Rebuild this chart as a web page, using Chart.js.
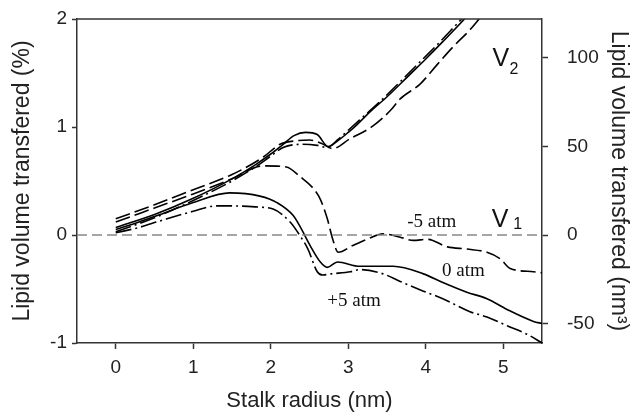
<!DOCTYPE html>
<html><head><meta charset="utf-8">
<script src="https://cdn.jsdelivr.net/npm/chart.js@4"></script>
<style>html,body{margin:0;padding:0;background:#fff;}canvas{display:block;}</style>
</head><body>
<canvas id="c" width="632" height="419"></canvas>
<script>
// ---- tick labels ----
const xTicks = [0, 1, 2, 3, 4, 5];
const yTicks = [-1, 0, 1, 2];
const y2Ticks = [-50, 0, 50, 100];

// ---- V1, -5 atm (long dash) ----
const xV1m5 = [0, 0.5, 1.0, 1.5, 1.9, 2.2, 2.38, 2.55, 2.64, 2.73, 2.8, 2.87, 3.05, 3.24, 3.45, 3.67, 3.84, 4.02, 4.28, 4.53, 4.79, 4.96, 5.09, 5.39, 5.5];
const yV1m5 = [0.12, 0.25, 0.38, 0.52, 0.64, 0.63, 0.54, 0.43, 0.33, 0.15, -0.04, -0.16, -0.10, -0.04, 0.01, -0.02, -0.05, -0.04, -0.11, -0.13, -0.16, -0.22, -0.31, -0.34, -0.35];
// ---- V1, 0 atm (solid) ----
const xV1z = [0, 0.3, 0.57, 1.0, 1.47, 1.86, 2.08, 2.29, 2.4, 2.51, 2.64, 2.73, 2.86, 3.15, 3.58, 3.97, 4.22, 4.53, 4.79, 5.05, 5.39, 5.5];
const yV1z = [0.05, 0.12, 0.19, 0.30, 0.39, 0.36, 0.30, 0.18, 0.05, -0.10, -0.25, -0.30, -0.25, -0.29, -0.29, -0.36, -0.44, -0.53, -0.59, -0.69, -0.80, -0.82];
// ---- V1, +5 atm (dash-dot) ----
const xV1p5 = [0, 0.3, 0.57, 1.0, 1.3, 1.47, 1.8, 2.03, 2.25, 2.38, 2.48, 2.6, 2.67, 2.78, 3.03, 3.15, 3.45, 3.67, 3.97, 4.22, 4.57, 4.79, 5.05, 5.31, 5.5];
const yV1p5 = [0.02, 0.07, 0.13, 0.22, 0.27, 0.27, 0.26, 0.24, 0.12, -0.01, -0.13, -0.34, -0.37, -0.36, -0.34, -0.32, -0.36, -0.43, -0.52, -0.59, -0.71, -0.76, -0.84, -0.92, -1.0];

// ---- V2, -5 atm (long dash) ----
const xV2m5 = [0, 0.5, 1.0, 1.5, 1.9, 2.12, 2.3, 2.5, 2.65, 2.8, 3.02, 3.32, 3.54, 3.67, 3.93, 4.15, 4.35, 4.57, 4.7];
const yV2m5 = [0.15, 0.28, 0.42, 0.56, 0.72, 0.84, 0.87, 0.88, 0.85, 0.80, 0.89, 1.01, 1.15, 1.26, 1.40, 1.58, 1.74, 1.90, 2.01];
// ---- V2, 0 atm (solid) ----
const xV2z = [0, 0.5, 1.0, 1.5, 1.8, 2.0, 2.16, 2.3, 2.45, 2.6, 2.74, 2.86, 3.0, 3.11, 3.28, 3.5, 3.8, 4.0, 4.22, 4.5, 4.55];
const yV2z = [0.07, 0.19, 0.34, 0.52, 0.65, 0.75, 0.84, 0.92, 0.95, 0.93, 0.82, 0.87, 0.95, 1.02, 1.14, 1.28, 1.49, 1.63, 1.79, 2.00, 2.04];
// ---- V2, +5 atm (dash-dot) ----
const xV2p5 = [0, 0.5, 1.0, 1.5, 1.8, 2.0, 2.16, 2.4, 2.6, 2.73, 2.86, 3.0, 3.2, 3.4, 3.7, 3.95, 4.2, 4.45, 4.52];
const yV2p5 = [0.03, 0.16, 0.32, 0.50, 0.63, 0.73, 0.81, 0.84, 0.83, 0.81, 0.88, 0.97, 1.10, 1.23, 1.44, 1.62, 1.80, 1.99, 2.04];

// ---- zero reference line ----
const xZero = [-0.5, 5.5];
const yZero = [0, 0];

const pts = (xs, ys) => xs.map((x, i) => ({x: x, y: ys[i]}));
const SANS = "'Liberation Sans', Arial, sans-serif";
const SERIF = "'Liberation Serif', 'Times New Roman', serif";
const AX = '#333';
const DASH = [15, 5];
const DASHDOT = [16, 4, 2, 4];

function line(label, xs, ys, dash) {
  return {label, data: pts(xs, ys), borderColor: '#000', borderWidth: 1.6, borderDash: dash,
    pointRadius: 0, fill: false, cubicInterpolationMode: 'monotone', yAxisID: 'y'};
}

const annot = {
  id: 'annot',
  afterDraw(chart) {
    const {ctx, chartArea: a, scales: {x, y}} = chart;
    ctx.save();
    ctx.strokeStyle = AX; ctx.lineWidth = 1.5;
    ctx.beginPath(); ctx.moveTo(a.left, a.top); ctx.lineTo(a.right, a.top); ctx.stroke();
    ctx.fillStyle = '#111';
    ctx.textBaseline = 'alphabetic'; ctx.textAlign = 'left';
    ctx.font = '25px ' + SANS;
    ctx.fillText('V', x.getPixelForValue(4.86), y.getPixelForValue(1.565));
    ctx.fillText('V', x.getPixelForValue(4.85), y.getPixelForValue(0.074));
    ctx.font = '16px ' + SANS;
    ctx.fillText('2', x.getPixelForValue(5.08), y.getPixelForValue(1.49));
    ctx.fillText('1', x.getPixelForValue(5.13), y.getPixelForValue(0.056));
    ctx.font = '19px ' + SERIF;
    ctx.fillText('-5 atm', x.getPixelForValue(3.76), y.getPixelForValue(0.074));
    ctx.fillText('0 atm', x.getPixelForValue(4.21), y.getPixelForValue(-0.38));
    ctx.fillText('+5 atm', x.getPixelForValue(2.73), y.getPixelForValue(-0.66));
    ctx.restore();
  }
};

function fitV(w) {
  return s => { s.width = w; s.paddingTop = 0; s.paddingBottom = 0; };
}

new Chart(document.getElementById('c'), {
  type: 'line',
  data: {
    datasets: [
      {label: 'zero', data: pts(xZero, yZero), borderColor: '#888', borderWidth: 1.3, borderDash: [10, 5],
        pointRadius: 0, fill: false, yAxisID: 'y'},
      line('V1 -5 atm', xV1m5, yV1m5, DASH),
      line('V1 0 atm', xV1z, yV1z, []),
      line('V1 +5 atm', xV1p5, yV1p5, DASHDOT),
      line('V2 -5 atm', xV2m5, yV2m5, DASH),
      line('V2 0 atm', xV2z, yV2z, []),
      line('V2 +5 atm', xV2p5, yV2p5, DASHDOT)
    ]
  },
  options: {
    responsive: false, animation: false, devicePixelRatio: 1,
    layout: {padding: {top: 19, left: 0, right: 0, bottom: 0}},
    plugins: {legend: {display: false}, tooltip: {enabled: false}},
    scales: {
      x: {
        type: 'linear', position: 'bottom', min: -0.5, max: 5.5,
        afterBuildTicks: s => { s.ticks = xTicks.map(v => ({value: v})); },
        afterFit: s => { s.height = 76; s.paddingLeft = 0; s.paddingRight = 0; },
        grid: {drawOnChartArea: false, drawTicks: true, tickLength: 6, tickColor: AX, tickWidth: 1.5},
        border: {color: AX, width: 1.5},
        ticks: {font: {size: 19, family: SANS}, color: '#222', padding: 7, maxRotation: 0, autoSkip: false},
        title: {display: true, text: 'Stalk radius (nm)', color: '#222', font: {size: 22, family: SANS}, padding: {top: 0, bottom: 5}}
      },
      y: {
        type: 'linear', position: 'left', min: -1, max: 2,
        afterBuildTicks: s => { s.ticks = yTicks.map(v => ({value: v})); },
        afterFit: fitV(77),
        grid: {drawOnChartArea: false, drawTicks: true, tickLength: 5, tickColor: AX, tickWidth: 1.5},
        border: {color: AX, width: 1.5},
        ticks: {font: {size: 19, family: SANS}, color: '#222', padding: 5, autoSkip: false},
        title: {display: true, text: 'Lipid volume transfered (%)', color: '#222', font: {size: 23, family: SANS}, padding: {top: 9, bottom: 0}}
      },
      y2: {
        type: 'linear', position: 'right', min: -61, max: 122,
        afterBuildTicks: s => { s.ticks = y2Ticks.map(v => ({value: v})); },
        afterFit: fitV(90),
        grid: {drawOnChartArea: false, drawTicks: true, tickLength: 6, tickColor: AX, tickWidth: 1.5},
        border: {color: AX, width: 1.5},
        ticks: {font: {size: 19, family: SANS}, color: '#222', padding: 19, autoSkip: false},
        title: {display: true, text: 'Lipid volume transfered (nm\u00B3)', color: '#222', font: {size: 23, family: SANS}, padding: {top: 0, bottom: 0}}
      }
    }
  },
  plugins: [annot]
});
</script>
</body></html>
